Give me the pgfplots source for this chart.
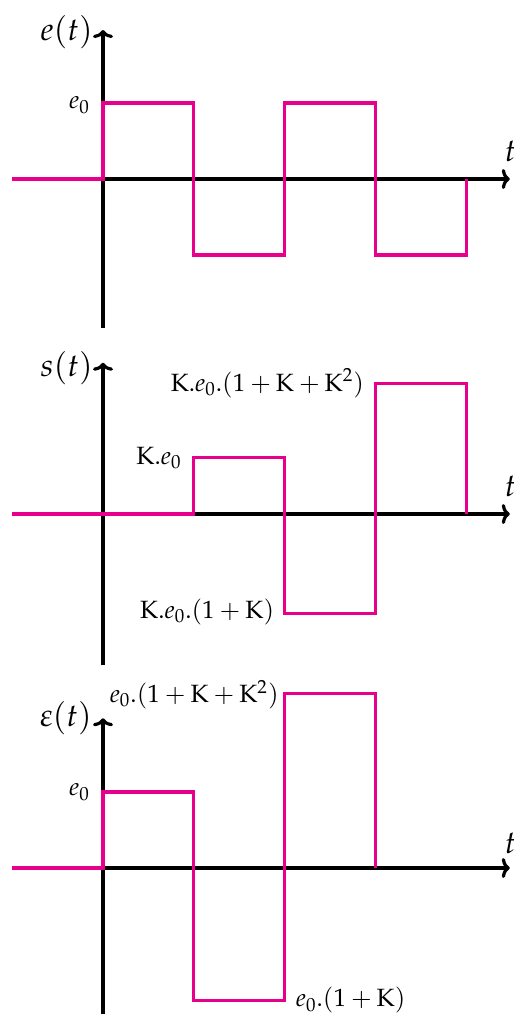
\documentclass[border=0pt]{standalone}
\usepackage{pgfplots}
\pgfplotsset{compat=1.18}
\usepackage{mathpazo}
\usetikzlibrary{arrows.meta}
\definecolor{sig}{RGB}{232,0,140}
\pgfplotsset{
  sigaxis/.style={
    axis lines=middle, x=45.4pt, y=38pt, xmin=-1, xmax=4.48,
    xtick=\empty, ytick=\empty, clip=false, anchor=origin,
    axis line style={line width=1.6pt, -{To[length=4pt,width=10pt]}},
  },
  sigline/.style={sig, line width=1.6pt, no marks},
}
\tikzset{
  lab/.style={inner sep=0pt, font=\fontsize{12.5}{15}\selectfont},
  fname/.style={inner sep=0pt, font=\fontsize{16}{19}\selectfont},
}
\begin{document}
\begin{tikzpicture}
% e(t)
\begin{axis}[sigaxis, ymin=-1.96, ymax=1.96, at={(0pt,0pt)}]
\addplot[sigline] coordinates {(-1,0) (0,0) (0,1) (1,1) (1,-1) (2,-1) (2,1) (3,1) (3,-1) (4,-1) (4,0)};
\node[fname, anchor=east] at (axis cs:-0.11,1.93) {$e(t)$};
\node[fname, anchor=west] at (axis cs:4.42,0.36) {$t$};
\node[lab, anchor=east] at (axis cs:-0.14,0.97) {$e_0$};
\end{axis}
% s(t)
\begin{axis}[sigaxis, ymin=-1.99, ymax=1.99, at={(0pt,-167.5pt)}]
\addplot[sigline] coordinates {(-1,0) (1,0) (1,0.74) (2,0.74) (2,-1.31) (3,-1.31) (3,1.72) (4,1.72) (4,0)};
\node[fname, anchor=east] at (axis cs:-0.11,1.92) {$s(t)$};
\node[fname, anchor=west] at (axis cs:4.42,0.36) {$t$};
\node[lab, anchor=east] at (axis cs:0.87,0.74) {$\mathrm{K}.e_0$};
\node[lab, anchor=east] at (axis cs:2.88,1.72) {$\mathrm{K}.e_0.(1+\mathrm{K}+\mathrm{K}^2)$};
\node[lab, anchor=east] at (axis cs:1.89,-1.29) {$\mathrm{K}.e_0.(1+\mathrm{K})$};
\end{axis}
% epsilon(t)
\begin{axis}[sigaxis, ymin=-1.95, ymax=1.97, at={(0pt,-344.5pt)}]
\addplot[sigline] coordinates {(-1,0) (0,0) (0,1) (1,1) (1,-1.74) (2,-1.74) (2,2.30) (3,2.30) (3,0)};
\node[fname, anchor=east] at (axis cs:-0.12,1.97) {$\varepsilon(t)$};
\node[fname, anchor=west] at (axis cs:4.42,0.32) {$t$};
\node[lab, anchor=east] at (axis cs:-0.14,1.0) {$e_0$};
\node[lab, anchor=west] at (axis cs:0.07,2.28) {$e_0.(1+\mathrm{K}+\mathrm{K}^2)$};
\node[lab, anchor=west] at (axis cs:2.12,-1.74) {$e_0.(1+\mathrm{K})$};
\end{axis}
\pgfresetboundingbox
\path[use as bounding box] (-51.5pt,89.5pt) rectangle (205.5pt,-417.5pt);
\end{tikzpicture}
\end{document}
